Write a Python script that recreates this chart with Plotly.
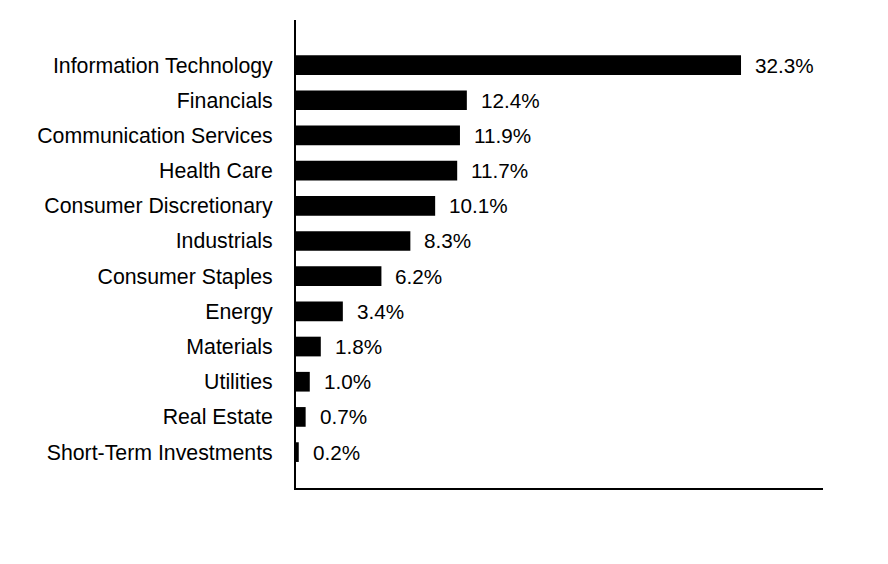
import plotly.graph_objects as go

categories = ["Information Technology", "Financials", "Communication Services", "Health Care",
              "Consumer Discretionary", "Industrials", "Consumer Staples", "Energy",
              "Materials", "Utilities", "Real Estate", "Short-Term Investments"]
values = [32.3, 12.4, 11.9, 11.7, 10.1, 8.3, 6.2, 3.4, 1.8, 1.0, 0.7, 0.2]
value_labels = ["32.3%", "12.4%", "11.9%", "11.7%", "10.1%", "8.3%", "6.2%", "3.4%",
                "1.8%", "1.0%", "0.7%", "0.2%"]

FONT = "Liberation Sans, Arial, sans-serif"

fig = go.Figure()
fig.add_trace(go.Bar(
    x=values, y=categories, orientation="h",
    marker=dict(color="#000000", line=dict(width=0)),
    width=0.56, hoverinfo="skip",
))

for c, v, t in zip(categories, values, value_labels):
    fig.add_annotation(x=v, y=c, text=t, showarrow=False, xanchor="left", yanchor="middle",
                       xshift=12, font=dict(family=FONT, size=20.7, color="#000000"))

fig.update_layout(
    width=888, height=564,
    margin=dict(l=296, r=65, t=20, b=76),
    paper_bgcolor="white", plot_bgcolor="white",
    showlegend=False,
    font=dict(family=FONT, size=21, color="#000000"),
    xaxis=dict(range=[0, 38.25], showgrid=False, zeroline=False, showticklabels=False,
               ticks="", showline=True, linecolor="#000000", linewidth=2),
    yaxis=dict(categoryorder="array", categoryarray=categories,
               range=[12.02, -1.28], showgrid=False, zeroline=False, ticks="",
               showline=True, linecolor="#000000", linewidth=2,
               ticklabelstandoff=17, tickfont=dict(family=FONT, size=21.3, color="#000000")),
)

fig.write_html("out.html")
